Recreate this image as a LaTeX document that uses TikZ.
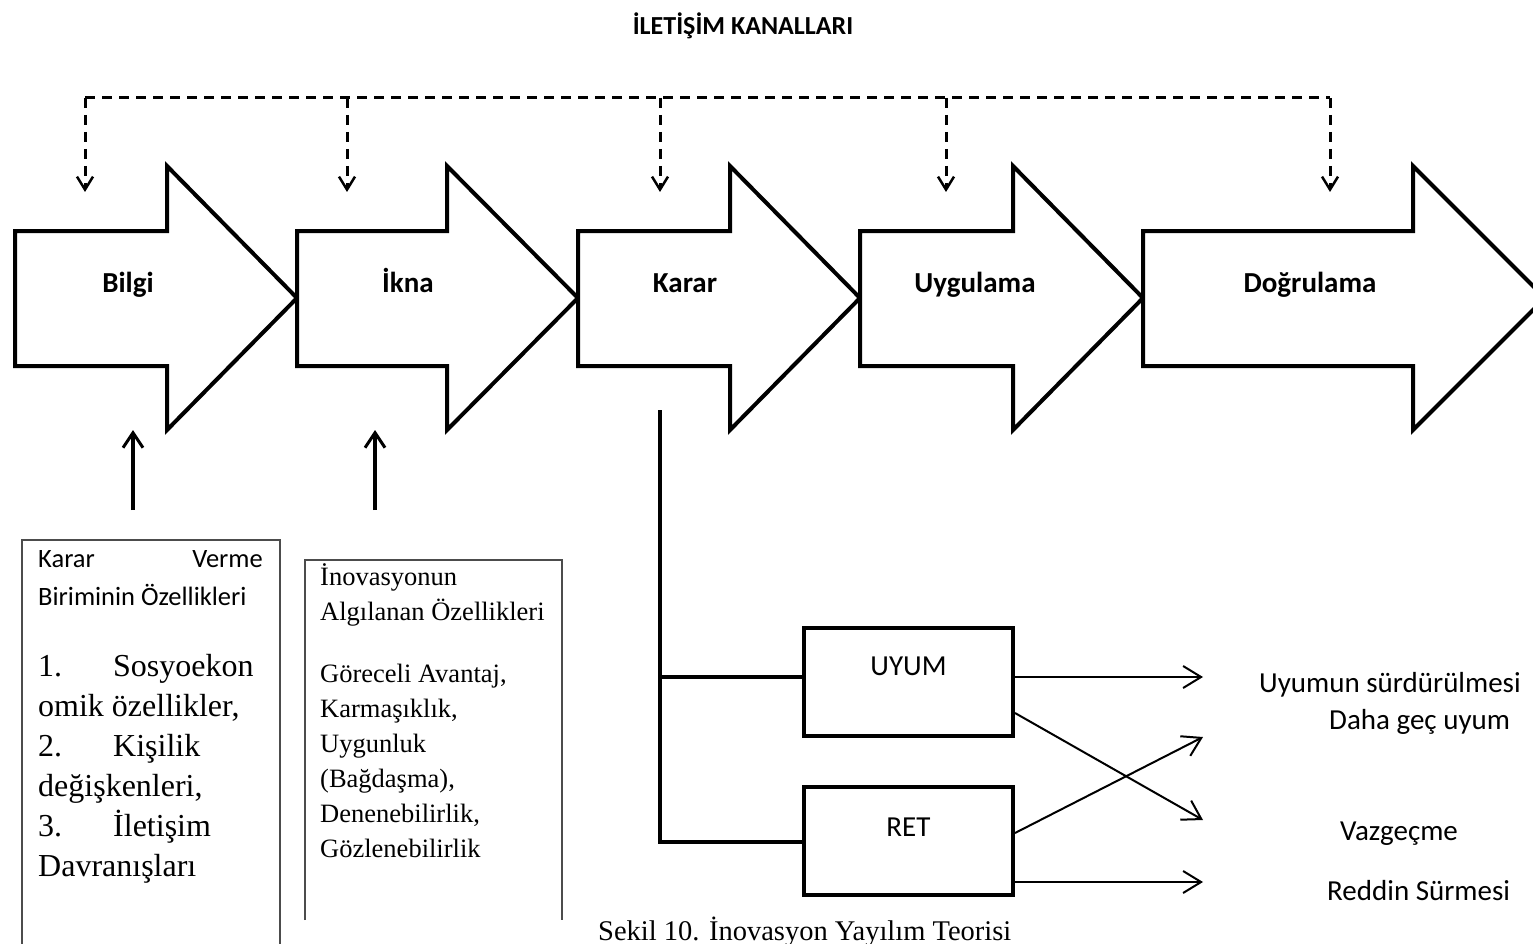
\documentclass[tikz,border=0pt]{standalone}
\usepackage{fontspec}
\setmainfont{Carlito}
\newfontfamily\timesf{Liberation Serif}
\usetikzlibrary{arrows.meta}

% block arrow of one stage: left edge, start of head, tip
\newcommand\stagearrow[3]{%
  \draw[stage] (#1,231) -- (#2,231) -- (#2,166) -- (#3,298) -- (#2,430) -- (#2,366) -- (#1,366) -- cycle;}

\begin{document}
\begin{tikzpicture}[x=1pt,y=-1pt,
  stage/.style={draw=black,line width=4pt,line join=miter,fill=white},
  stagetext/.style={font=\fontsize{29}{34}\selectfont\bfseries,anchor=base,inner sep=0pt},
  chan/.style={line width=3pt,dash pattern=on 10pt off 7pt},
  chanarrow/.style={chan,-{Straight Barb[length=13pt,width=16pt,line width=2.5pt]}},
  uparrow/.style={line width=3.5pt,-{Straight Barb[length=15pt,width=20pt,line width=3pt]}},
  branch/.style={line width=4pt},
  choicebox/.style={draw=black,line width=4pt,minimum width=209pt,minimum height=108pt,inner sep=0pt},
  outarrow/.style={line width=2pt,-{Straight Barb[length=18pt,width=22pt,line width=2pt]}},
  calib/.style={font=\fontsize{29}{34}\selectfont,anchor=base west,inner sep=0pt},
  smallcalib/.style={font=\fontsize{26.5}{31}\selectfont,inner sep=0pt},
  listtext/.style={font=\timesf\fontsize{32}{38}\selectfont,anchor=base west,inner sep=0pt},
  attrtext/.style={font=\timesf\fontsize{26.5}{31}\selectfont,anchor=base west,inner sep=0pt},
  panel/.style={draw=black!70,line width=1.3pt}]

\path[use as bounding box,clip] (0,0) rectangle (1533,944);

% title
\node[font=\fontsize{26}{31}\selectfont\bfseries,anchor=base,inner sep=0pt] (title) at (743,35) {İLETİŞİM KANALLARI};

% communication channels (dashed)
\coordinate (c1) at (85,98);
\coordinate (c2) at (347,98);
\coordinate (c3) at (660,98);
\coordinate (c4) at (946,98);
\coordinate (c5) at (1330,98);
\coordinate (d1) at (85,192);
\coordinate (d2) at (347,192);
\coordinate (d3) at (660,192);
\coordinate (d4) at (946,192);
\coordinate (d5) at (1330,192);
\draw[chan] (c1) -- (c5);
\foreach \i in {1,...,5} \draw[chanarrow] (c\i) -- (d\i);

% the five stages
\stagearrow{15}{167}{297}
\stagearrow{297}{447}{578}
\stagearrow{578}{730}{860}
\stagearrow{860}{1013}{1143}
\stagearrow{1143}{1413}{1545}

\node[stagetext] (bilgi) at (128,292) {Bilgi};
\node[stagetext] (ikna) at (408,292) {İkna};
\node[stagetext] (karar) at (685,292) {Karar};
\node[stagetext] (uygulama) at (975,292) {Uygulama};
\node[stagetext] (dogrulama) at (1310,292) {Doğrulama};

% influences on the first two stages
\coordinate (u1s) at (133,510);
\coordinate (u1e) at (133,430);
\coordinate (u2s) at (375,510);
\coordinate (u2e) at (375,430);
\draw[uparrow] (u1s) -- (u1e);
\draw[uparrow] (u2s) -- (u2e);

% panel: decision-making unit
\draw[panel] (22,944) -- (22,540) -- (280,540) -- (280,944);
\node[smallcalib,anchor=base west] (kv1) at (38,567) {Karar};
\node[smallcalib,anchor=base east] (kv2) at (263,567) {Verme};
\node[smallcalib,anchor=base west] (kv3) at (38,605) {Biriminin Özellikleri};
\node[listtext] (n1) at (38,676) {1.};
\node[listtext] (l1) at (113,676) {Sosyoekon};
\node[listtext] (l2) at (38,716) {omik özellikler,};
\node[listtext] (n2) at (38,756) {2.};
\node[listtext] (l3) at (113,756) {Kişilik};
\node[listtext] (l4) at (38,796) {değişkenleri,};
\node[listtext] (n3) at (38,836) {3.};
\node[listtext] (l5) at (113,836) {İletişim};
\node[listtext] (l6) at (38,876) {Davranışları};

% panel: perceived characteristics of the innovation
\draw[panel] (305,920) -- (305,560) -- (562,560) -- (562,920);
\node[attrtext] (p1) at (320,585) {İnovasyonun};
\node[attrtext] (p2) at (320,620) {Algılanan Özellikleri};
\node[attrtext] (p3) at (320,682) {Göreceli Avantaj,};
\node[attrtext] (p4) at (320,717) {Karmaşıklık,};
\node[attrtext] (p5) at (320,752) {Uygunluk};
\node[attrtext] (p6) at (320,787) {(Bağdaşma),};
\node[attrtext] (p7) at (320,822) {Denenebilirlik,};
\node[attrtext] (p8) at (320,857) {Gözlenebilirlik};

% decision: adoption or rejection
\node[choicebox] (uyum) at (908.5,682) {};
\node[choicebox] (ret) at (908.5,841) {};
\node[font=\fontsize{29}{34}\selectfont,anchor=base,inner sep=0pt] (uyumt) at (908.5,675) {UYUM};
\node[font=\fontsize{29}{34}\selectfont,anchor=base,inner sep=0pt] (rett) at (908.5,836) {RET};

\coordinate (kt) at (660,410);
\coordinate (kb) at (660,842);
\coordinate (ka) at (660,677);
\coordinate (uyumin) at (uyum.west |- ka);
\coordinate (retin) at (ret.west |- kb);
\draw[branch] (kt) -- (kb) -- (retin);
\draw[branch] (ka) -- (uyumin);

% outcomes
\node[calib] (o1) at (1259,692) {Uyumun sürdürülmesi};
\node[calib] (o2) at (1329,729) {Daha geç uyum};
\node[calib] (o3) at (1340,840) {Vazgeçme};
\node[calib] (o4) at (1327,900) {Reddin Sürmesi};

\coordinate (a1s) at (uyum.east |- 0,677);
\coordinate (a1e) at (1203,677);
\coordinate (a2s) at (uyum.east |- 0,713);
\coordinate (a2e) at (1203,820);
\coordinate (a3s) at (ret.east |- 0,833);
\coordinate (a3e) at (1203,737);
\coordinate (a4s) at (ret.east |- 0,882);
\coordinate (a4e) at (1203,882);
\draw[outarrow] (a1s) -- (a1e);
\draw[outarrow] (a2s) -- (a2e);
\draw[outarrow] (a3s) -- (a3e);
\draw[outarrow] (a4s) -- (a4e);

% caption
\node[font=\timesf\fontsize{28.5}{34}\selectfont,anchor=base west,inner sep=0pt] (caption) at (598,940) {Sekil 10. İnovasyon Yayılım Teorisi};

\end{tikzpicture}
\end{document}
